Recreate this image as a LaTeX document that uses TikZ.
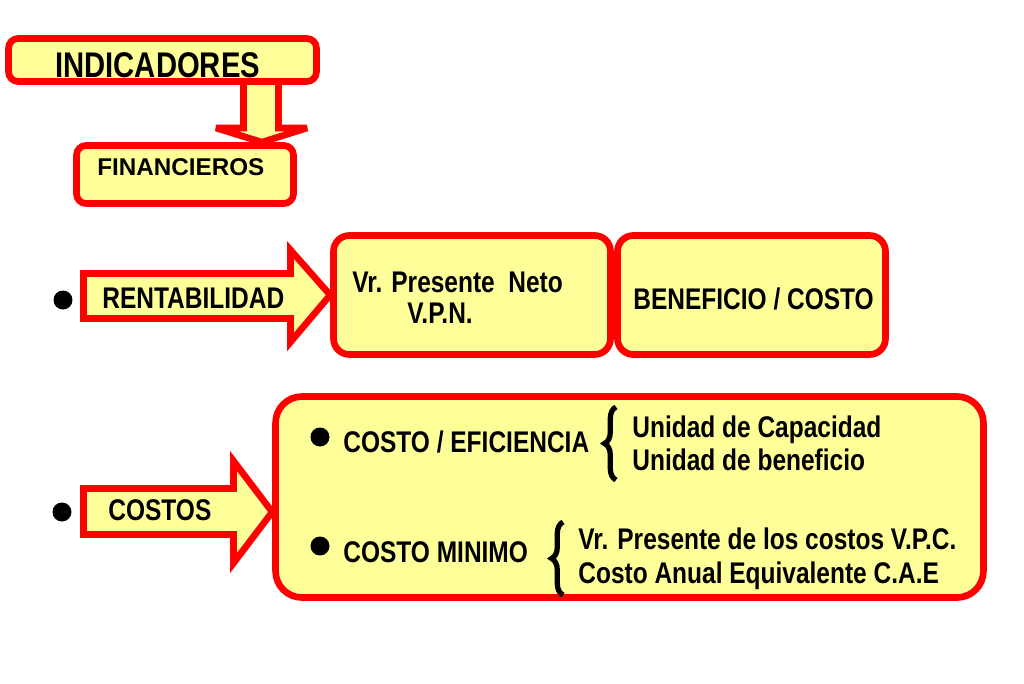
\documentclass[tikz,border=0pt]{standalone}
\usepackage{fontspec}
\setmainfont{Liberation Sans}
\newfontfamily\narrowfont{Liberation Sans}[FakeStretch=0.82]
\usetikzlibrary{decorations.pathreplacing, backgrounds}
\definecolor{boxfill}{RGB}{255,255,153}
\definecolor{boxline}{RGB}{255,0,0}
\tikzset{
	box/.style = {draw=boxline, fill=boxfill, line width=3.8pt, rounded corners=5.5pt, inner sep=0pt},
	bigbox/.style = {box, rounded corners=15pt},
	blockarrow/.style = {draw=boxline, fill=boxfill, line width=3.8pt},
	txt/.style = {anchor=base west, inner sep=0pt, font=\narrowfont\bfseries\fontsize{17}{20}\selectfont},
	curly/.style = {decorate, decoration={brace, amplitude=6.5pt}, line width=3pt}
}

\begin{document}
\begin{tikzpicture}[x=0.02cm, y=-0.02cm]
	\useasboundingbox (0,0) rectangle (1024,683);
	% ====== Titles ========
	\node[box, minimum width=6.16cm, minimum height=0.86cm] (ind) at (162.5,60) {};
	\node[txt, font=\narrowfont\bfseries\fontsize{20.3}{24}\selectfont] (indtxt) at (55,77) {INDICADORES};
	\node[box, minimum width=4.34cm, minimum height=1.16cm] (fin) at (185,174.5) {};
	\node[txt, font=\bfseries\fontsize{13.8}{16}\selectfont] (fintxt) at (97,175) {FINANCIEROS};

	% ====== Rentabilidad ========
	\node[box, rounded corners=9pt, minimum width=5.54cm, minimum height=2.38cm] (vpn) at (472,295) {};
	\node[txt] (vpn1) at (352,292) {Vr. Presente\ \ Neto};
	\node[txt] (vpn2) at (407,323) {V.P.N.};
	\node[box, rounded corners=9pt, minimum width=5.36cm, minimum height=2.38cm] (ben) at (751.5,295) {};
	\node[txt] (bentxt) at (633,309) {BENEFICIO / COSTO};
	\node[txt] (rent) at (102,308) {RENTABILIDAD};

	% ====== Costos ========
	\node[bigbox, minimum width=14.16cm, minimum height=4.02cm] (cost) at (629.5,497) {};
	\node[txt] (efi) at (343,452) {COSTO / EFICIENCIA};
	\node[txt] (uc) at (632,437) {Unidad de Capacidad};
	\node[txt] (ub) at (632,470) {Unidad de beneficio};
	\node[txt] (min) at (343,562) {COSTO MINIMO};
	\node[txt] (vpc) at (578,549) {Vr. Presente de los costos V.P.C.};
	\node[txt] (cae) at (578,583) {Costo Anual Equivalente C.A.E};
	\node[txt] (cos) at (108,520) {COSTOS};

	\draw[curly] (616,480) -- (616,407);
	\draw[curly] (563,595) -- (563,522);

	\foreach \p in {(63,300),(62,512),(320,437),(320,546)} {\fill[black] \p circle (0.19cm);}

	\begin{pgfonlayer}{background}
		\draw[blockarrow, miter limit=2] (243.5,0 |- ind.center) -- (243.5,128) -- (216,128) -- (262,0 |- fin.north) -- (307,128) -- (278.5,128) -- (278.5,0 |- ind.center) -- cycle;
		\draw[blockarrow] (83.5,273.5) -- (290.5,273.5) -- (290.5,250) -- (vpn.west) -- (290.5,342) -- (290.5,318.5) -- (83.5,318.5) -- cycle;
		\draw[blockarrow] (83.5,488.5) -- (233.5,488.5) -- (233.5,461) -- (cost.west |- 0,512) -- (233.5,563) -- (233.5,534.5) -- (83.5,534.5) -- cycle;
	\end{pgfonlayer}
\end{tikzpicture}
\end{document}
